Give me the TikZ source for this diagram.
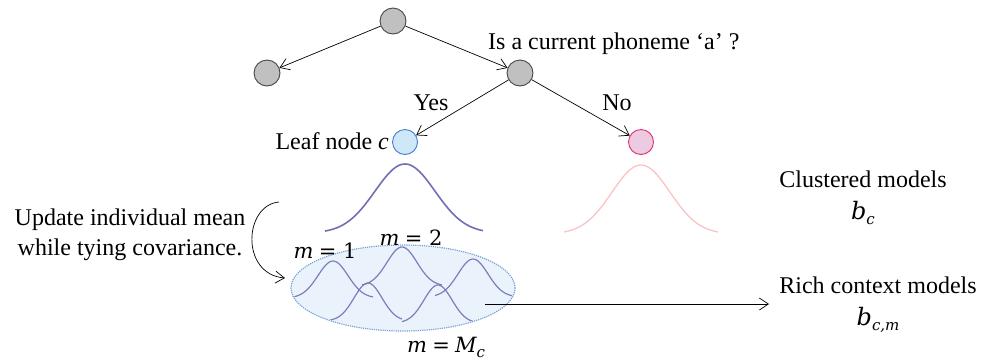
\documentclass[tikz,border=0pt]{standalone}
\usepackage{fontspec}
\setmainfont{Liberation Serif}
\newfontfamily\cmathfont{DejaVu Serif}
\newcommand\mvar[1]{{\cmathfont\itshape #1}}
\newcommand\mtxt[1]{{\cmathfont #1}}
\newcommand\msub[1]{\lower5pt\hbox{\fontsize{15}{15}\selectfont\cmathfont\itshape #1}}
\usetikzlibrary{arrows.meta,shapes.geometric}
\definecolor{ngray}{RGB}{192,192,192}
\definecolor{ngrayd}{RGB}{70,70,70}
\definecolor{nblue}{RGB}{206,232,250}
\definecolor{nblued}{RGB}{70,125,205}
\definecolor{npink}{RGB}{236,202,226}
\definecolor{npinkd}{RGB}{225,45,110}
\definecolor{gauss}{RGB}{112,110,180}
\definecolor{gaussin}{RGB}{128,124,188}
\definecolor{gaussp}{RGB}{250,196,196}
\definecolor{ellfill}{RGB}{234,243,251}
\definecolor{elldraw}{RGB}{120,160,215}
\tikzset{
  treenode/.style={circle, draw=ngrayd, fill=ngray, line width=0.9pt, minimum size=26pt, inner sep=0pt},
  leafblue/.style={circle, draw=nblued, fill=nblue, line width=0.9pt, minimum size=25pt, inner sep=0pt},
  leafpink/.style={circle, draw=npinkd, fill=npink, line width=0.9pt, minimum size=25pt, inner sep=0pt},
  edge/.style={-{Straight Barb[length=9pt,width=12pt]}, line width=0.7pt},
  lbl/.style={font=\fontsize{24}{30}\selectfont, inner sep=0pt},
  mlbl/.style={font=\fontsize{21}{26}\selectfont, inner sep=0pt},
  gcurve/.style={draw=gaussin, line width=1.2pt},
}
\begin{document}
\begin{tikzpicture}[x=1pt,y=-1pt]
\useasboundingbox (0,0) rectangle (981,360);
% tree
\node[treenode] (root) at (393,21) {};
\node[treenode] (lc) at (267,73) {};
\node[treenode] (rc) at (520,73) {};
\node[leafblue] (lb) at (405,142) {};
\node[leafpink] (lp) at (641,142) {};
\draw[edge] (root) -- (lc);
\draw[edge] (root) -- (rc);
\draw[edge] (rc) -- (lb);
\draw[edge] (rc) -- (lp);
\node[lbl, anchor=west] (q) at (488,44) {Is a current phoneme ‘a’ ?};
\node[lbl] (yes) at (431,103) {Yes};
\node[lbl] (no) at (617,103) {No};
\node[lbl, anchor=east] (leaf) at (389,141) {Leaf node \textit{c}};
% clustered gaussians
\draw[draw=gauss, line width=1.6pt] plot[domain=-80:78, samples=80, smooth] ({405+\x},{233-69*exp(-(\x/30)^2/2)});
\draw[draw=gaussp, line width=1.3pt] plot[domain=-77:77, samples=80, smooth] ({641+\x},{234-69*exp(-(\x/29)^2/2)});
% ellipse
\node[ellipse, draw=elldraw, densely dotted, fill=ellfill, line width=1.2pt, minimum width=224pt, minimum height=86pt, inner sep=0pt] (ell) at (403,288) {};
\begin{scope}
\clip (403,288) ellipse (111pt and 42pt);
\draw[gcurve] plot[domain=-42:40, samples=50, smooth] ({333+\x},{298-37*exp(-(\x/15)^2/2)});
\draw[gcurve] plot[domain=-38:34, samples=50, smooth] ({368+\x},{321-38*exp(-(\x/14)^2/2)});
\draw[gcurve] plot[domain=-40:40, samples=50, smooth] ({402+\x},{286-39*exp(-(\x/15)^2/2)});
\draw[gcurve] plot[domain=-36:40, samples=50, smooth] ({438+\x},{323-38*exp(-(\x/14)^2/2)});
\draw[gcurve] plot[domain=-38:40, samples=50, smooth] ({473+\x},{297-38*exp(-(\x/15)^2/2)});
\end{scope}
\node[mlbl] (m1) at (325,251) {\mvar{m} \mtxt{= 1}};
\node[mlbl] (m2) at (411,238) {\mvar{m} \mtxt{= 2}};
\node[mlbl, anchor=west] (mM) at (407,347) {\mvar{m} \mtxt{=} \mvar{M}\msub{c}};
% update arrow
\node[lbl, align=center] (upd) at (130,235) {Update individual mean\\while tying covariance.};
\coordinate (cs) at (279,202);
\coordinate (ce) at (285,278);
\draw[edge] (cs) .. controls (244,205) and (240,274) .. (ce);
% rich context arrow
\coordinate (rs) at (485,304);
\coordinate (re) at (769,304);
\draw[edge] (rs) -- (re);
\node[lbl, align=center] (clu) at (863,198) {Clustered models\\[2pt]\mvar{b}\msub{c}};
\node[lbl, align=center] (rich) at (878,305) {Rich context models\\[2pt]\mvar{b}\msub{c,m}};
\end{tikzpicture}
\end{document}
